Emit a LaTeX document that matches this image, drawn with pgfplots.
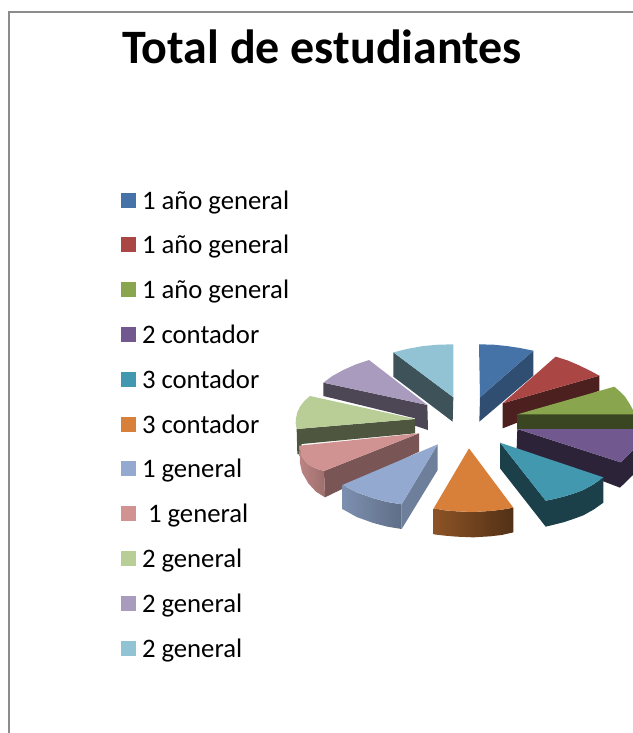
\documentclass[border=0pt]{standalone}
\usepackage{fontspec}
\setmainfont{Carlito}
\usepackage{pgfplots}
\pgfplotsset{compat=1.18}

% top colours of the slices
\definecolor{c1}{HTML}{4572A7}
\definecolor{c2}{HTML}{AA4643}
\definecolor{c3}{HTML}{89A54E}
\definecolor{c4}{HTML}{71588F}
\definecolor{c5}{HTML}{4198AF}
\definecolor{c6}{HTML}{D8803A}
\definecolor{c7}{HTML}{93A9CF}
\definecolor{c8}{HTML}{D19392}
\definecolor{c9}{HTML}{B9CD96}
\definecolor{c10}{HTML}{A99BBD}
\definecolor{c11}{HTML}{92C3D4}

\begin{document}
\begin{tikzpicture}
\path[use as bounding box] (0,0) rectangle (633bp,733bp);
\begin{axis}[
    at={(0,0)}, anchor=south west,
    scale only axis, width=633bp, height=733bp,
    xmin=-870, xmax=1029,
    ymin=-1005, ymax=1194,
    y dir=reverse,
    hide axis,
    slice/.style={draw=none, forget plot},
    legend image code/.code={\path[draw=none,fill=none] (0bp,0bp) -- (21bp,0bp); \fill[draw=none,#1] (0bp,-5bp) rectangle (15bp,10bp);},
    legend cell align=left,
    legend style={
        at={(axis cs:-507,-438)}, anchor=north west,
        draw=none, fill=none, inner sep=0pt, outer sep=0pt,
        font=\fontsize{26.7bp}{27bp}\selectfont,
        nodes={text height=20bp, text depth=7bp, inner sep=0pt, outer sep=0pt},
        /tikz/row sep=17.8bp,
    },
]
\addlegendimage{fill=c1}\addlegendentry{1 año general}
\addlegendimage{fill=c2}\addlegendentry{1 año general}
\addlegendimage{fill=c3}\addlegendentry{1 año general}
\addlegendimage{fill=c4}\addlegendentry{2 contador}
\addlegendimage{fill=c5}\addlegendentry{3 contador}
\addlegendimage{fill=c6}\addlegendentry{3 contador}
\addlegendimage{fill=c7}\addlegendentry{1 general}
\addlegendimage{fill=c8}\addlegendentry{\ 1 general}
\addlegendimage{fill=c9}\addlegendentry{2 general}
\addlegendimage{fill=c10}\addlegendentry{2 general}
\addlegendimage{fill=c11}\addlegendentry{2 general}

% chart frame
\addplot[forget plot, draw=black!45, line width=1.5bp] coordinates {(-843,1194) (-843,-969) (1029,-969)};

% slice 11
\addplot[slice, fill=c11!42!black] coordinates {(310,52) (490,187) (488,260) (310,125)} -- cycle;
\addplot[slice, fill=c11] coordinates {(310,52) (355,41) (400,33) (445,29) (490,28) (490,187)} -- cycle;
% slice 1
\addplot[slice, fill=c1!68!black] coordinates {(570,187) (730,47) (730,122) (568,260)} -- cycle;
\addplot[slice, fill=c1] coordinates {(567,28) (610,29) (650,33) (690,39) (730,47) (570,187)} -- cycle;
% slice 10
\addplot[slice, fill=c10!45!black] coordinates {(100,143) (412,210) (414,285) (375,272) (375,250) (100,183)} -- cycle;
\addplot[slice, fill=c10] coordinates {(237,75) (412,210) (100,143) (127,123) (160,105) (198,88)} -- cycle;
% slice 2
\addplot[slice, fill=c2!45!black] coordinates {(638,205) (928,122) (928,167) (638,280)} -- cycle;
\addplot[slice, fill=c2] coordinates {(797,65) (832,76) (865,90) (898,106) (928,122) (638,205)} -- cycle;
% slice 9
\addplot[slice, fill=c9!42!black] coordinates {(375,252) (375,295) (35,327) (35,360) (22,357) (20,282)} -- cycle;
\addplot[slice, fill=c9] coordinates {(375,252) (20,282) (17,265) (18,250) (22,232) (30,215) (43,198) (60,183)} -- cycle;
% slice 3
\addplot[slice, fill=c3!42!black] coordinates {(682,238) (1029,238) (1029,282) (682,282)} -- cycle;
\addplot[slice, fill=c3] coordinates {(973,155) (990,170) (1005,185) (1018,205) (1029,225) (1029,238) (682,238)} -- cycle;
% slice 4
\addplot[slice, fill=c4!40!black] coordinates {(682,282) (992,382) (1029,345) (1029,420) (990,458) (680,340)} -- cycle;
\addplot[slice, fill=c4] coordinates {(682,282) (1029,282) (1029,345) (992,382)} -- cycle;
% slice 5
\addplot[slice, fill=c5!42!black] coordinates {(630,323) (767,497) (792,492) (820,485) (850,476) (880,465) (912,447) (940,427) (940,503) (912,523) (880,541) (850,552) (820,562) (792,569) (767,575) (630,400)} -- cycle;
\addplot[slice, fill=c5] coordinates {(630,323) (940,427) (912,447) (880,465) (850,476) (820,485) (792,492) (767,497)} -- cycle;
% slice 8
\addplot[slice, fill=c8!58!black] coordinates {(387,295) (387,350) (105,487) (102,408)} -- cycle;
\addplot[slice, left color=c8!90!black, right color=c8!75!black] coordinates {(28,332) (33,358) (45,378) (60,392) (80,401) (102,408) (105,487) (78,470) (55,445) (36,412) (30,385)} -- cycle;
\addplot[slice, fill=c8] coordinates {(387,295) (102,408) (80,401) (60,392) (45,378) (33,358) (28,332)} -- cycle;
% slice 7
\addplot[slice, left color=c7!85!black, right color=c7!65!black] coordinates {(157,450) (200,472) (250,490) (292,501) (335,508) (335,582) (292,575) (250,564) (200,546) (157,522)} -- cycle;
\addplot[slice, fill=c7!75!black] coordinates {(443,328) (443,405) (335,582) (335,508)} -- cycle;
\addplot[slice, fill=c7] coordinates {(443,328) (335,508) (292,501) (250,490) (200,472) (157,450)} -- cycle;
% slice 6
\addplot[slice, left color=c6!65!black, right color=c6!38!black] coordinates {(431,520) (465,526) (500,529) (550,531) (600,528) (635,524) (670,518) (670,592) (635,600) (600,604) (550,607) (500,605) (465,602) (431,598)} -- cycle;
\addplot[slice, fill=c6] coordinates {(537,340) (670,518) (635,524) (600,528) (550,531) (500,529) (465,526) (431,520)} -- cycle;

\node[anchor=base, font=\fontsize{48bp}{48bp}\selectfont\bfseries] at (axis cs:96,-816) {Total de estudiantes};
\end{axis}
\end{tikzpicture}
\end{document}
